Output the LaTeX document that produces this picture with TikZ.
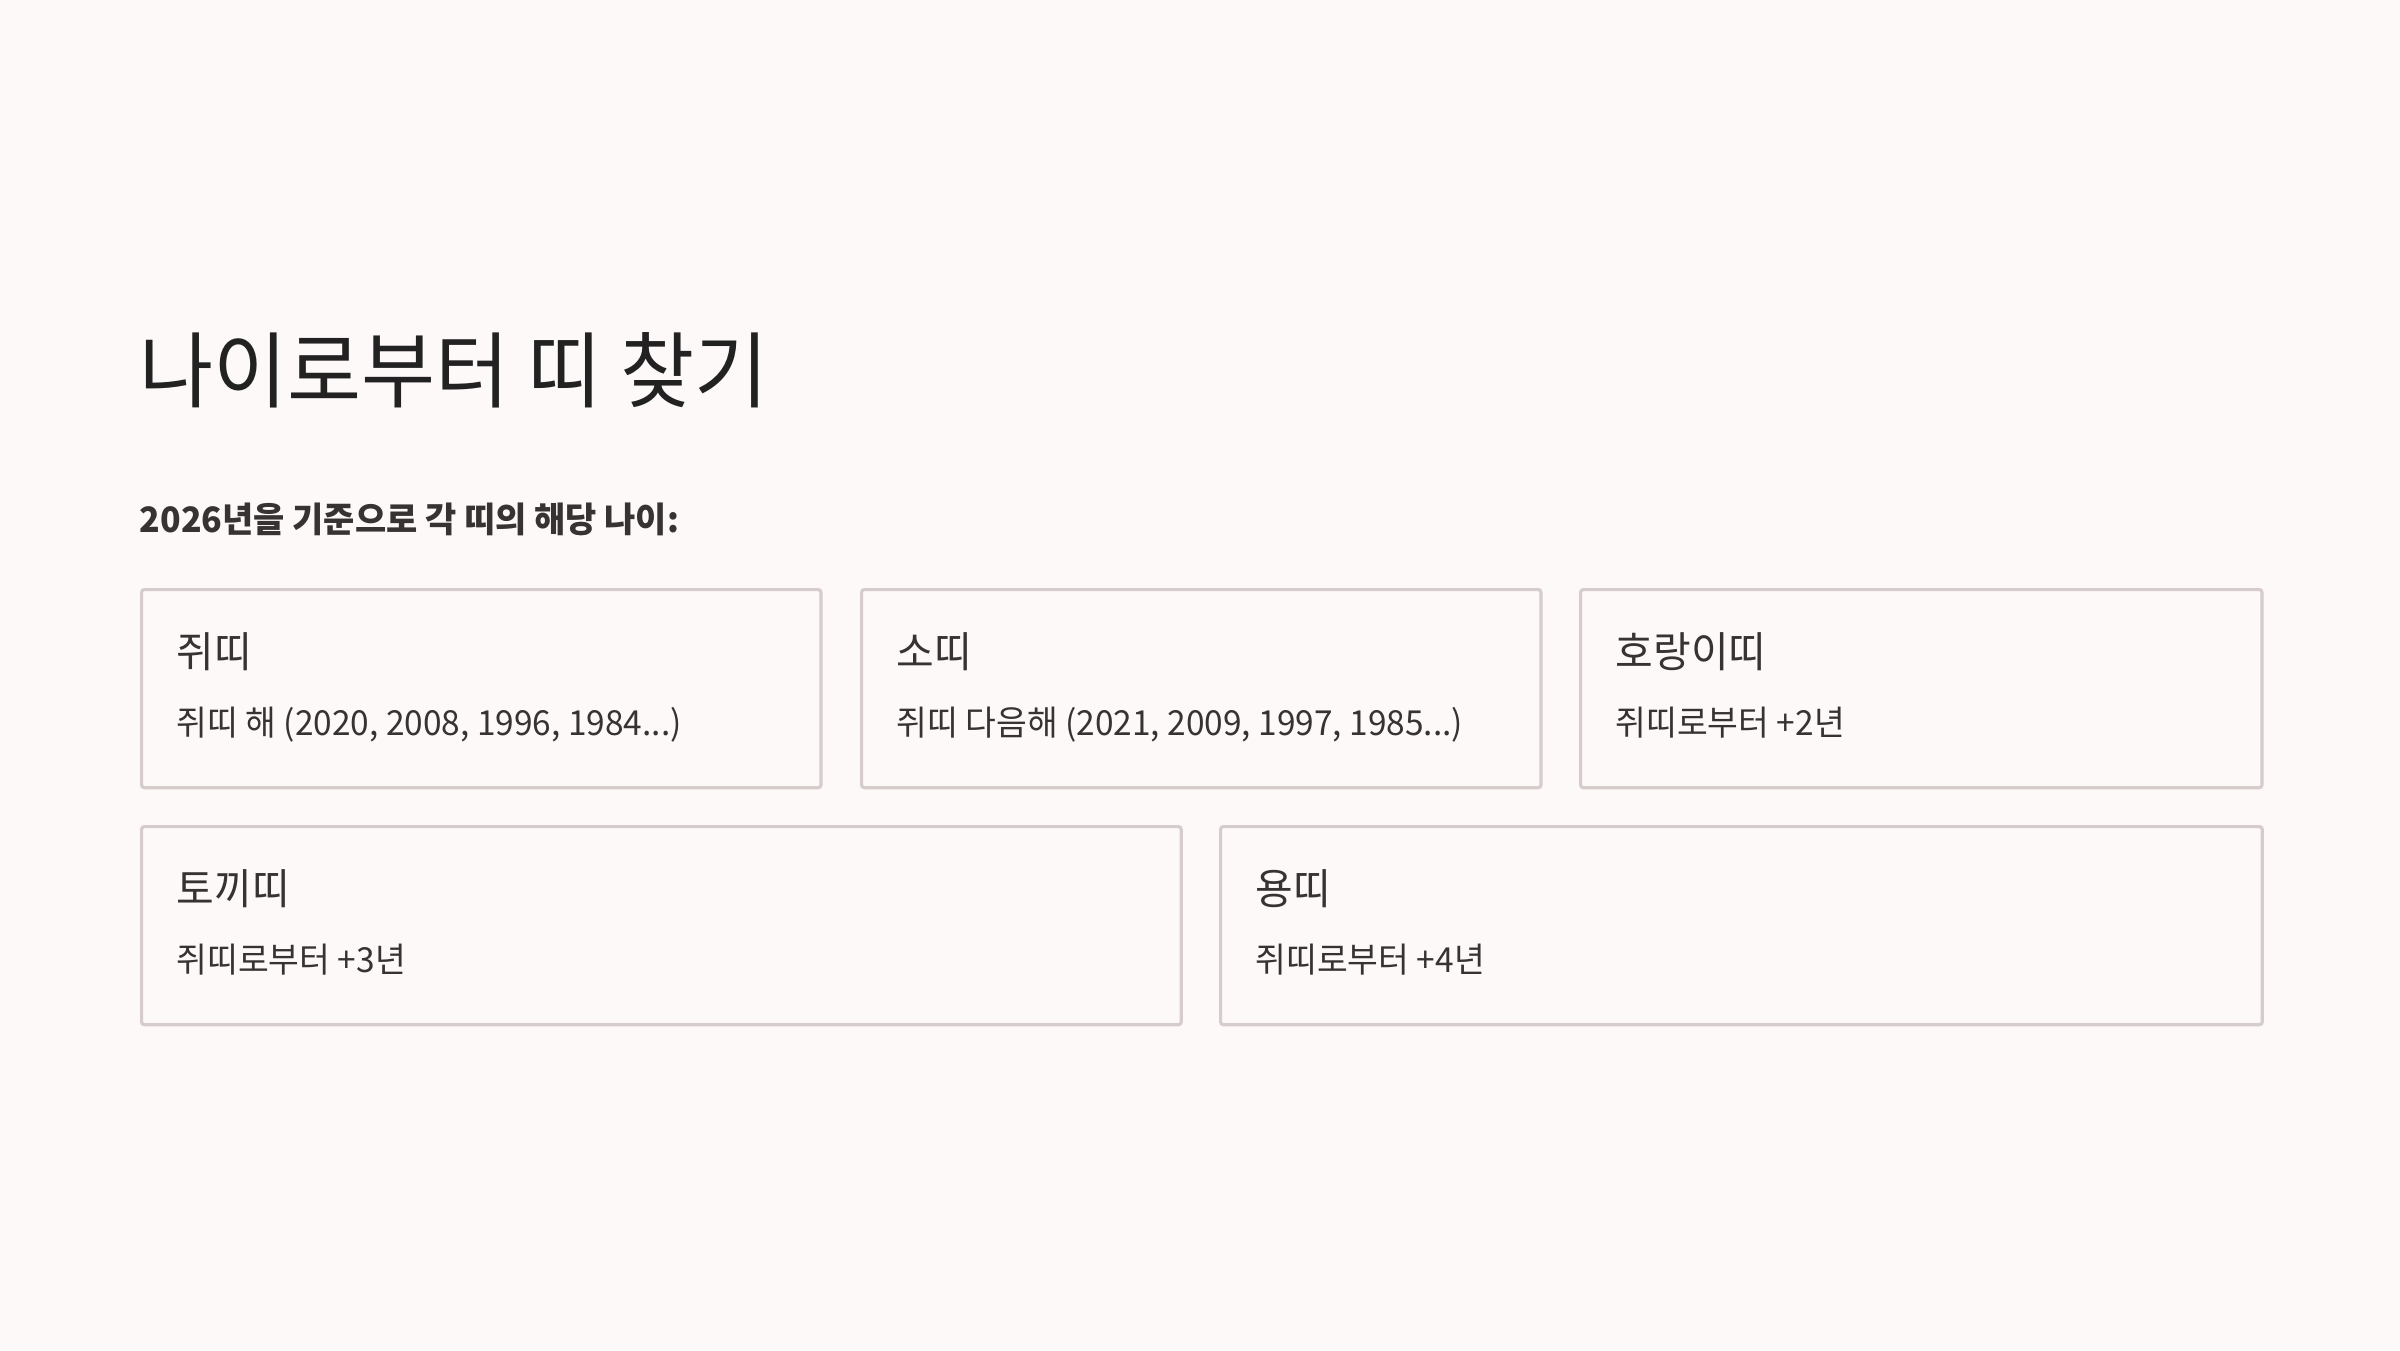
\documentclass[tikz,border=0pt]{standalone}
\usepackage{fontspec}
\setmainfont{Noto Sans CJK KR}[FakeStretch=0.97]
\usetikzlibrary{calc}
\definecolor{bgcol}{HTML}{FDF9F8}
\definecolor{bordercol}{HTML}{D6CCCC}
\definecolor{titlecol}{HTML}{222222}
\definecolor{textcol}{HTML}{383333}
\tikzset{
  card/.style={draw=bordercol, line width=0.9pt, fill=bgcol, rounded corners=0.8pt,
    anchor=north west, minimum height=1.98cm, inner sep=0pt},
  cardhead/.style={anchor=base west, inner sep=0pt, text=textcol,
    font=\fontsize{12pt}{14pt}\selectfont},
  cardbody/.style={anchor=base west, inner sep=0pt, text=textcol,
    font=\fontsize{9.8pt}{12pt}\selectfont},
}
\begin{document}
\begin{tikzpicture}[x=0.01cm,y=-0.01cm]
\fill[bgcol] (0,0) rectangle (2400,1350);
\useasboundingbox (0,0) rectangle (2400,1350);
\node[anchor=base west, inner sep=0pt, text=titlecol, font=\fontsize{23.6pt}{28pt}\selectfont] (title) at (139,401) {나이로부터 띠 찾기};
\node[anchor=base west, inner sep=0pt, text=textcol, font=\fontsize{9.95pt}{12pt}\selectfont\bfseries] (sub) at (139,532) {2026년을 기준으로 각 띠의 해당 나이:};
% row 1
\node[card, minimum width=6.79cm] (b1) at (140,588) {};
\node[card, minimum width=6.79cm] (b2) at (860,588) {};
\node[card, minimum width=6.81cm] (b3) at (1579,588) {};
% row 2
\node[card, minimum width=10.39cm] (b4) at (140,825) {};
\node[card, minimum width=10.41cm] (b5) at (1219,825) {};
\foreach \b/\h/\t in {b1/쥐띠/{쥐띠 해 (2020, 2008, 1996, 1984...)},
                      b2/소띠/{쥐띠 다음해 (2021, 2009, 1997, 1985...)},
                      b3/호랑이띠/{쥐띠로부터 +2년},
                      b4/토끼띠/{쥐띠로부터 +3년},
                      b5/용띠/{쥐띠로부터 +4년}}{
  \node[cardhead] (\b h) at ($(\b.north west)+(36,79)$) {\h};
  \node[cardbody] (\b t) at ($(\b.north west)+(36,147)$) {\t};
}
\end{tikzpicture}
\end{document}
